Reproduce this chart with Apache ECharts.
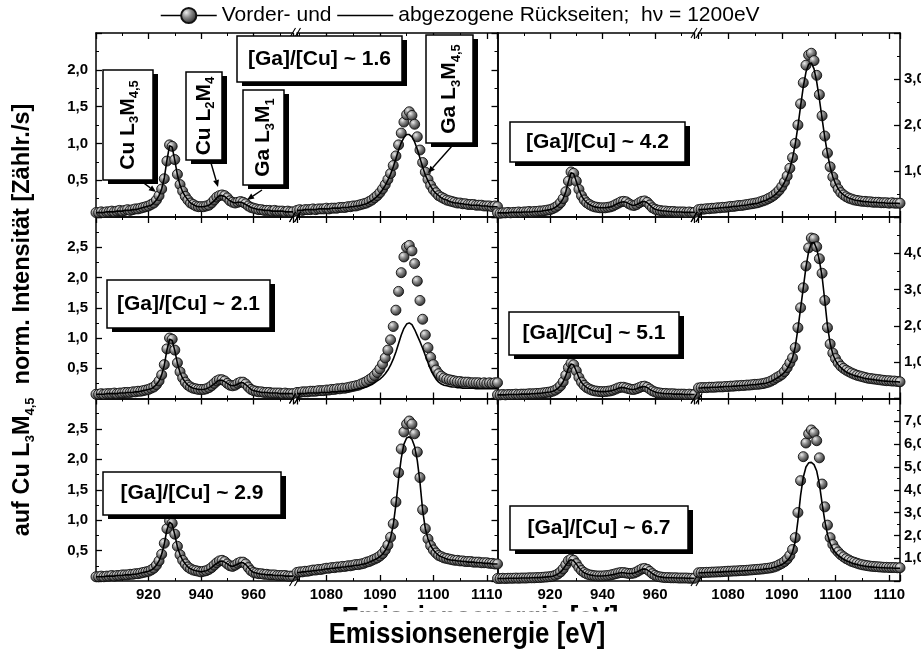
<!DOCTYPE html>
<html>
<head>
<meta charset="utf-8">
<script src="https://cdn.jsdelivr.net/npm/echarts@6/dist/echarts.min.js"></script>
<style>
  html, body { margin: 0; padding: 0; background: #fff; }
  #chart { width: 921px; height: 655px; }
</style>
</head>
<body>
<div id="chart"></div>
<script>
// Emission energies of the two measured windows (Cu L region and Ga L3M4,5 region), eV
const energyLow = [900,901,902,903,904,905,906,907,908,909,910,911,912,913,914,915,916,917,918,919,
  920,921,922,923,924,925,926,927,928,929,930,931,932,933,934,935,936,937,938,939,
  940,941,942,943,944,945,946,947,948,949,950,951,952,953,954,955,956,957,958,959,
  960,961,962,963,964,965,966,967,968,969,970,971,972,973,974,975];
const energyHigh = [1074.5,1075,1075.5,1076,1076.5,1077,1077.5,1078,1078.5,1079,
  1079.5,1080,1080.5,1081,1081.5,1082,1082.5,1083,1083.5,1084,
  1084.5,1085,1085.5,1086,1086.5,1087,1087.5,1088,1088.5,1089,
  1089.5,1090,1090.5,1091,1091.5,1092,1092.5,1093,1093.5,1094,
  1094.5,1095,1095.5,1096,1096.5,1097,1097.5,1098,1098.5,1099,
  1099.5,1100,1100.5,1101,1101.5,1102,1102.5,1103,1103.5,1104,
  1104.5,1105,1105.5,1106,1106.5,1107,1107.5,1108,1108.5,1109,
  1109.5,1110,1110.5,1111,1111.5,1112];

// Sample composition and intensity scale of each panel (row by row, left then right)
const sampleRatios = ['1.6', '4.2', '2.1', '5.1', '2.9', '6.7'];
const yMaxima = [2.5, 4, 3, 5, 3, 8];
const ySteps = [0.5, 1, 0.5, 1, 0.5, 1];

// [Ga]/[Cu] ~ 1.6
const frontLow16 = [0.06,0.06,0.07,0.06,0.07,0.07,0.08,0.07,0.08,0.09,
  0.08,0.09,0.10,0.09,0.10,0.11,0.11,0.12,0.13,0.14,
  0.15,0.17,0.19,0.23,0.29,0.38,0.52,0.76,0.98,0.96,
  0.78,0.58,0.44,0.35,0.28,0.23,0.19,0.17,0.15,0.14,
  0.14,0.14,0.15,0.16,0.19,0.23,0.27,0.29,0.30,0.29,
  0.26,0.22,0.20,0.19,0.20,0.21,0.20,0.18,0.15,0.13,
  0.12,0.11,0.10,0.10,0.09,0.09,0.09,0.08,0.09,0.08,
  0.08,0.08,0.07,0.08,0.07,0.07];
const backLow16 = [0.06,0.06,0.06,0.06,0.07,0.07,0.07,0.07,0.08,0.08,
  0.08,0.09,0.09,0.09,0.10,0.10,0.11,0.12,0.13,0.14,
  0.15,0.16,0.19,0.23,0.29,0.38,0.53,0.77,0.97,0.95,
  0.77,0.57,0.43,0.34,0.28,0.23,0.19,0.17,0.15,0.14,
  0.14,0.14,0.15,0.16,0.19,0.22,0.26,0.29,0.29,0.28,
  0.25,0.22,0.20,0.19,0.20,0.20,0.19,0.17,0.15,0.13,
  0.12,0.11,0.10,0.10,0.09,0.09,0.09,0.08,0.08,0.08,
  0.08,0.08,0.07,0.07,0.07,0.07];
const frontHigh16 = [0.09,0.10,0.09,0.10,0.10,0.10,0.11,0.10,0.11,0.11,
  0.11,0.12,0.11,0.12,0.12,0.12,0.13,0.13,0.13,0.14,
  0.14,0.15,0.15,0.16,0.17,0.18,0.19,0.21,0.23,0.26,
  0.29,0.33,0.38,0.44,0.51,0.59,0.70,0.83,0.98,1.14,
  1.29,1.39,1.43,1.38,1.26,1.09,0.91,0.74,0.61,0.51,
  0.43,0.37,0.33,0.29,0.27,0.25,0.23,0.22,0.21,0.20,
  0.19,0.19,0.18,0.18,0.17,0.17,0.17,0.16,0.16,0.16,
  0.15,0.15,0.15,0.14,0.15,0.14];
const backHigh16 = [0.09,0.09,0.09,0.10,0.10,0.10,0.10,0.10,0.11,0.11,
  0.11,0.11,0.11,0.12,0.12,0.12,0.12,0.13,0.13,0.13,
  0.14,0.14,0.15,0.15,0.16,0.17,0.18,0.20,0.22,0.25,
  0.28,0.32,0.37,0.43,0.50,0.58,0.68,0.79,0.91,1.01,
  1.08,1.12,1.12,1.09,1.02,0.92,0.80,0.68,0.57,0.49,
  0.42,0.36,0.32,0.29,0.26,0.24,0.23,0.21,0.20,0.19,
  0.19,0.18,0.18,0.17,0.17,0.16,0.16,0.16,0.16,0.15,
  0.15,0.15,0.14,0.14,0.14,0.14];

// [Ga]/[Cu] ~ 4.2
const frontLow42 = [0.09,0.08,0.09,0.09,0.10,0.09,0.10,0.10,0.11,0.10,
  0.11,0.11,0.12,0.11,0.12,0.12,0.13,0.13,0.14,0.15,
  0.16,0.18,0.21,0.25,0.31,0.40,0.55,0.78,0.98,0.95,
  0.78,0.60,0.46,0.37,0.31,0.27,0.24,0.22,0.21,0.20,
  0.20,0.20,0.21,0.22,0.24,0.27,0.30,0.33,0.34,0.33,
  0.29,0.26,0.25,0.27,0.31,0.34,0.35,0.32,0.26,0.20,
  0.17,0.15,0.14,0.13,0.13,0.12,0.12,0.12,0.11,0.11,
  0.11,0.11,0.10,0.11,0.10,0.10];
const backLow42 = [0.09,0.09,0.09,0.09,0.09,0.10,0.10,0.10,0.10,0.10,
  0.11,0.11,0.11,0.11,0.12,0.12,0.12,0.13,0.14,0.15,
  0.16,0.18,0.21,0.25,0.31,0.40,0.55,0.77,0.96,0.94,
  0.77,0.59,0.46,0.37,0.31,0.27,0.24,0.22,0.21,0.20,
  0.20,0.20,0.21,0.22,0.24,0.27,0.30,0.32,0.33,0.32,
  0.29,0.26,0.25,0.27,0.30,0.33,0.34,0.31,0.26,0.20,
  0.17,0.15,0.14,0.13,0.13,0.12,0.12,0.11,0.11,0.11,
  0.11,0.10,0.10,0.10,0.10,0.10];
const frontHigh42 = [0.16,0.17,0.17,0.18,0.18,0.19,0.19,0.20,0.20,0.21,
  0.21,0.22,0.23,0.23,0.24,0.25,0.25,0.26,0.27,0.28,
  0.29,0.30,0.31,0.33,0.35,0.37,0.40,0.43,0.47,0.52,
  0.58,0.66,0.76,0.89,1.06,1.29,1.60,2.00,2.46,2.92,
  3.30,3.52,3.56,3.40,3.08,2.66,2.20,1.76,1.39,1.09,
  0.87,0.72,0.61,0.53,0.48,0.44,0.41,0.39,0.37,0.36,
  0.35,0.34,0.34,0.33,0.33,0.32,0.32,0.32,0.31,0.31,
  0.31,0.30,0.31,0.30,0.30,0.30];
const backHigh42 = [0.16,0.16,0.17,0.17,0.18,0.18,0.19,0.19,0.20,0.20,
  0.21,0.21,0.22,0.23,0.23,0.24,0.25,0.25,0.26,0.27,
  0.28,0.29,0.30,0.32,0.34,0.36,0.39,0.42,0.46,0.51,
  0.57,0.65,0.75,0.88,1.05,1.28,1.58,1.97,2.41,2.83,
  3.15,3.32,3.35,3.22,2.94,2.56,2.14,1.73,1.38,1.09,
  0.87,0.72,0.61,0.53,0.48,0.44,0.41,0.39,0.37,0.36,
  0.35,0.34,0.33,0.33,0.32,0.32,0.32,0.31,0.31,0.31,
  0.30,0.30,0.30,0.30,0.30,0.29];

// [Ga]/[Cu] ~ 2.1
const frontLow21 = [0.07,0.07,0.08,0.07,0.08,0.08,0.08,0.09,0.08,0.09,
  0.09,0.10,0.10,0.10,0.11,0.11,0.12,0.12,0.13,0.14,
  0.15,0.17,0.19,0.23,0.29,0.39,0.56,0.82,1.00,0.98,
  0.80,0.59,0.44,0.34,0.27,0.22,0.19,0.17,0.16,0.15,
  0.15,0.15,0.16,0.18,0.21,0.25,0.29,0.31,0.31,0.29,
  0.25,0.22,0.21,0.22,0.25,0.27,0.27,0.24,0.19,0.15,
  0.13,0.12,0.11,0.11,0.10,0.10,0.10,0.09,0.09,0.09,
  0.09,0.08,0.09,0.08,0.08,0.08];
const backLow21 = [0.07,0.07,0.07,0.07,0.08,0.08,0.08,0.08,0.08,0.09,
  0.09,0.09,0.10,0.10,0.10,0.11,0.11,0.12,0.13,0.14,
  0.15,0.16,0.19,0.23,0.29,0.39,0.55,0.80,0.98,0.96,
  0.79,0.58,0.43,0.33,0.27,0.22,0.19,0.17,0.16,0.15,
  0.15,0.15,0.16,0.18,0.21,0.24,0.28,0.30,0.30,0.28,
  0.25,0.22,0.21,0.22,0.24,0.26,0.26,0.23,0.19,0.15,
  0.13,0.12,0.11,0.10,0.10,0.10,0.09,0.09,0.09,0.09,
  0.08,0.08,0.08,0.08,0.08,0.08];
const frontHigh21 = [0.10,0.10,0.11,0.11,0.11,0.12,0.12,0.12,0.13,0.13,
  0.13,0.14,0.14,0.15,0.15,0.16,0.16,0.17,0.17,0.18,
  0.19,0.20,0.21,0.22,0.24,0.26,0.28,0.31,0.34,0.38,
  0.43,0.49,0.57,0.67,0.80,0.97,1.19,1.46,1.77,2.08,
  2.34,2.50,2.53,2.44,2.23,1.94,1.62,1.31,1.05,0.84,
  0.68,0.56,0.47,0.41,0.37,0.34,0.32,0.31,0.30,0.29,
  0.28,0.28,0.27,0.27,0.27,0.26,0.26,0.26,0.26,0.25,
  0.26,0.25,0.26,0.25,0.26,0.26];
const backHigh21 = [0.08,0.08,0.08,0.08,0.09,0.09,0.09,0.09,0.09,0.10,
  0.10,0.10,0.10,0.11,0.11,0.11,0.12,0.12,0.12,0.13,
  0.13,0.14,0.15,0.16,0.17,0.18,0.19,0.21,0.23,0.26,
  0.29,0.32,0.36,0.41,0.47,0.55,0.65,0.77,0.91,1.05,
  1.16,1.23,1.25,1.22,1.14,1.04,0.94,0.83,0.71,0.59,
  0.48,0.39,0.32,0.27,0.24,0.22,0.21,0.20,0.19,0.19,
  0.18,0.18,0.17,0.17,0.17,0.17,0.17,0.16,0.16,0.16,
  0.16,0.16,0.16,0.16,0.16,0.16];

// [Ga]/[Cu] ~ 5.1
const frontLow51 = [0.10,0.10,0.11,0.10,0.11,0.11,0.11,0.12,0.11,0.12,
  0.12,0.12,0.13,0.13,0.13,0.14,0.14,0.15,0.16,0.17,
  0.18,0.20,0.23,0.28,0.35,0.46,0.64,0.85,0.97,0.93,
  0.76,0.58,0.45,0.36,0.30,0.26,0.23,0.21,0.20,0.19,
  0.19,0.19,0.20,0.21,0.23,0.26,0.29,0.31,0.31,0.29,
  0.27,0.25,0.25,0.27,0.30,0.33,0.34,0.31,0.26,0.21,
  0.18,0.16,0.15,0.14,0.14,0.13,0.13,0.13,0.12,0.12,
  0.12,0.12,0.11,0.12,0.11,0.11];
const backLow51 = [0.10,0.10,0.10,0.10,0.11,0.11,0.11,0.11,0.11,0.12,
  0.12,0.12,0.12,0.13,0.13,0.14,0.14,0.15,0.16,0.17,
  0.18,0.20,0.23,0.28,0.35,0.46,0.63,0.84,0.95,0.92,
  0.75,0.57,0.44,0.36,0.30,0.26,0.23,0.21,0.20,0.19,
  0.19,0.19,0.20,0.21,0.23,0.25,0.28,0.30,0.30,0.28,
  0.26,0.25,0.25,0.27,0.30,0.32,0.33,0.30,0.25,0.21,
  0.18,0.16,0.15,0.14,0.13,0.13,0.13,0.12,0.12,0.12,
  0.12,0.11,0.11,0.11,0.11,0.11];
const frontHigh51 = [0.29,0.30,0.30,0.30,0.31,0.31,0.31,0.32,0.32,0.32,
  0.33,0.33,0.34,0.34,0.35,0.35,0.36,0.36,0.37,0.37,
  0.38,0.39,0.39,0.40,0.41,0.43,0.45,0.48,0.52,0.57,
  0.61,0.66,0.74,0.85,0.98,1.12,1.40,1.95,2.50,3.05,
  3.65,4.15,4.42,4.40,4.18,3.85,3.45,2.70,1.95,1.50,
  1.25,1.10,0.98,0.89,0.83,0.78,0.74,0.70,0.67,0.64,
  0.62,0.60,0.58,0.56,0.55,0.54,0.53,0.52,0.51,0.50,
  0.49,0.49,0.48,0.48,0.47,0.46];
const backHigh51 = [0.29,0.29,0.30,0.30,0.30,0.31,0.31,0.31,0.32,0.32,
  0.33,0.33,0.33,0.34,0.34,0.35,0.35,0.36,0.36,0.37,
  0.38,0.38,0.39,0.40,0.41,0.42,0.44,0.47,0.51,0.55,
  0.60,0.65,0.72,0.82,0.95,1.12,1.42,1.92,2.48,3.05,
  3.62,4.05,4.28,4.30,4.12,3.80,3.36,2.70,2.00,1.52,
  1.22,1.05,0.93,0.85,0.78,0.73,0.69,0.66,0.63,0.61,
  0.59,0.57,0.55,0.54,0.53,0.52,0.51,0.50,0.49,0.48,
  0.48,0.47,0.47,0.46,0.46,0.45];

// [Ga]/[Cu] ~ 2.9
const frontLow29 = [0.07,0.07,0.08,0.07,0.08,0.08,0.09,0.08,0.09,0.09,
  0.10,0.10,0.10,0.11,0.11,0.12,0.12,0.13,0.14,0.15,
  0.16,0.18,0.21,0.26,0.33,0.44,0.62,0.86,0.99,0.95,
  0.77,0.57,0.43,0.34,0.28,0.23,0.20,0.18,0.17,0.16,
  0.15,0.16,0.17,0.19,0.22,0.26,0.30,0.33,0.34,0.32,
  0.28,0.25,0.24,0.26,0.29,0.31,0.31,0.28,0.22,0.17,
  0.14,0.13,0.12,0.12,0.11,0.11,0.10,0.10,0.10,0.09,
  0.09,0.09,0.09,0.08,0.08,0.08];
const backLow29 = [0.07,0.07,0.07,0.07,0.08,0.08,0.08,0.08,0.09,0.09,
  0.09,0.10,0.10,0.10,0.11,0.11,0.12,0.13,0.14,0.15,
  0.16,0.18,0.21,0.26,0.33,0.44,0.61,0.84,0.97,0.93,
  0.76,0.56,0.43,0.34,0.28,0.23,0.20,0.18,0.17,0.16,
  0.15,0.16,0.17,0.19,0.22,0.26,0.29,0.32,0.33,0.31,
  0.28,0.25,0.24,0.26,0.28,0.30,0.30,0.27,0.22,0.17,
  0.14,0.13,0.12,0.11,0.11,0.10,0.10,0.10,0.09,0.09,
  0.09,0.09,0.08,0.08,0.08,0.08];
const frontHigh29 = [0.14,0.15,0.15,0.16,0.16,0.17,0.18,0.18,0.19,0.19,
  0.20,0.21,0.21,0.22,0.22,0.23,0.23,0.24,0.24,0.25,
  0.25,0.26,0.27,0.27,0.28,0.29,0.31,0.32,0.34,0.36,
  0.38,0.41,0.45,0.51,0.59,0.72,0.94,1.30,1.78,2.17,
  2.45,2.58,2.63,2.58,2.42,2.12,1.70,1.17,0.86,0.69,
  0.58,0.51,0.46,0.42,0.40,0.38,0.37,0.36,0.35,0.34,
  0.34,0.33,0.33,0.32,0.32,0.32,0.31,0.31,0.31,0.30,
  0.30,0.30,0.29,0.29,0.28,0.28];
const backHigh29 = [0.14,0.14,0.15,0.15,0.16,0.16,0.17,0.17,0.18,0.18,
  0.19,0.20,0.20,0.21,0.21,0.22,0.22,0.23,0.23,0.24,
  0.24,0.25,0.26,0.26,0.27,0.28,0.29,0.31,0.33,0.35,
  0.37,0.40,0.44,0.50,0.58,0.71,0.92,1.26,1.68,2.02,
  2.25,2.35,2.37,2.33,2.21,1.98,1.62,1.16,0.86,0.69,
  0.58,0.51,0.46,0.42,0.40,0.38,0.36,0.35,0.34,0.34,
  0.33,0.33,0.32,0.32,0.31,0.31,0.31,0.30,0.30,0.30,
  0.29,0.29,0.29,0.28,0.28,0.28];

// [Ga]/[Cu] ~ 6.7
const frontLow67 = [0.11,0.11,0.12,0.11,0.12,0.12,0.12,0.13,0.12,0.13,
  0.13,0.13,0.14,0.14,0.14,0.15,0.15,0.16,0.17,0.18,
  0.19,0.21,0.25,0.31,0.40,0.53,0.71,0.89,0.96,0.91,
  0.76,0.59,0.46,0.37,0.31,0.27,0.25,0.23,0.22,0.22,
  0.22,0.23,0.24,0.26,0.29,0.32,0.35,0.37,0.37,0.35,
  0.33,0.33,0.35,0.40,0.47,0.53,0.55,0.51,0.42,0.32,
  0.25,0.20,0.18,0.16,0.15,0.15,0.14,0.14,0.14,0.13,
  0.13,0.13,0.13,0.12,0.12,0.12];
const backLow67 = [0.11,0.11,0.11,0.11,0.12,0.12,0.12,0.12,0.12,0.13,
  0.13,0.13,0.13,0.14,0.14,0.15,0.15,0.16,0.17,0.18,
  0.19,0.21,0.25,0.31,0.39,0.52,0.69,0.86,0.93,0.89,
  0.75,0.58,0.45,0.36,0.31,0.27,0.25,0.23,0.22,0.22,
  0.22,0.23,0.24,0.26,0.28,0.31,0.34,0.36,0.36,0.34,
  0.33,0.33,0.35,0.39,0.45,0.51,0.53,0.49,0.41,0.32,
  0.25,0.20,0.18,0.16,0.15,0.14,0.14,0.14,0.13,0.13,
  0.13,0.13,0.12,0.12,0.12,0.12];
const frontHigh67 = [0.36,0.37,0.37,0.38,0.38,0.39,0.39,0.40,0.40,0.41,
  0.42,0.43,0.43,0.44,0.44,0.45,0.46,0.46,0.47,0.48,
  0.49,0.50,0.51,0.52,0.53,0.55,0.56,0.58,0.61,0.65,
  0.71,0.77,0.85,0.96,1.12,1.38,1.90,3.00,4.40,5.45,
  6.05,6.45,6.62,6.50,6.15,5.40,4.25,3.25,2.45,1.90,
  1.60,1.40,1.27,1.15,1.06,0.98,0.92,0.86,0.82,0.78,
  0.74,0.71,0.69,0.67,0.65,0.64,0.63,0.62,0.61,0.60,
  0.60,0.59,0.59,0.59,0.58,0.58];
const backHigh67 = [0.35,0.36,0.36,0.37,0.37,0.38,0.38,0.39,0.39,0.40,
  0.41,0.41,0.42,0.42,0.43,0.44,0.44,0.45,0.46,0.46,
  0.47,0.48,0.49,0.50,0.51,0.53,0.54,0.56,0.59,0.62,
  0.67,0.72,0.79,0.89,1.03,1.27,1.72,2.65,3.75,4.55,
  5.00,5.18,5.20,5.10,4.82,4.25,3.40,2.65,2.05,1.65,
  1.40,1.24,1.12,1.03,0.95,0.89,0.84,0.79,0.75,0.72,
  0.69,0.67,0.65,0.63,0.62,0.61,0.60,0.59,0.58,0.58,
  0.57,0.57,0.57,0.56,0.56,0.56];

const frontSeries = [[frontLow16, frontHigh16], [frontLow42, frontHigh42], [frontLow21, frontHigh21],
                     [frontLow51, frontHigh51], [frontLow29, frontHigh29], [frontLow67, frontHigh67]];
const backSeries  = [[backLow16, backHigh16], [backLow42, backHigh42], [backLow21, backHigh21],
                     [backLow51, backHigh51], [backLow29, backHigh29], [backLow67, backHigh67]];

const NAME_FRONT = 'Vorder- und';
const NAME_BACK = 'abgezogene Rückseiten;  hν = 1200eV';

// ---------- layout ----------
const SANS = '"Liberation Sans",Arial,Helvetica,sans-serif';
const colX = [96, 497.5];
const colW = [401.5, 402.5];
const segLowW = 197;      // width of the 900-975 eV window
const segHighOff = 201;   // start of the 1074.5-1112 eV window inside a panel
const rowY = [33, 217, 398.5];
const rowH = [184, 181.5, 182.5];

const ball = new echarts.graphic.RadialGradient(0.36, 0.33, 0.72, [
  { offset: 0, color: '#ececec' },
  { offset: 0.4, color: '#8c8c8c' },
  { offset: 1, color: '#1c1c1c' }
]);

const commaFmt = v => v.toFixed(1).replace('.', ',');
const plainFmt = v => String(v);
const pairs = (xs, ys) => xs.map((x, i) => [x, ys[i]]);

const axisLineStyle = { color: '#000', width: 1.5 };
const tickStyle = { color: '#000', width: 1.3 };
const tickFont = { color: '#000', fontFamily: SANS, fontWeight: 'bold', fontSize: 15 };

function xAxisDef(gridIndex, position, min, max, interval, labels) {
  const a = {
    type: 'value', gridIndex, position, min, max, splitNumber: 4,
    axisLine: { show: true, onZero: false, lineStyle: axisLineStyle },
    axisTick: { show: true, inside: true, length: 6, lineStyle: tickStyle },
    minorTick: { show: true, splitNumber: 2, length: 3, lineStyle: { color: '#000', width: 1 } },
    splitLine: { show: false },
    axisLabel: Object.assign({
      show: labels, formatter: plainFmt, showMinLabel: false, showMaxLabel: false, margin: 6
    }, tickFont)
  };
  if (interval) a.interval = interval;
  return a;
}

function yAxisDef(gridIndex, position, max, step, ticks, labels) {
  return {
    type: 'value', gridIndex, position, min: 0, max, interval: step,
    axisLine: { show: true, onZero: false, lineStyle: axisLineStyle },
    axisTick: { show: ticks, inside: true, length: 6, lineStyle: tickStyle },
    minorTick: { show: ticks, splitNumber: 2, length: 3, lineStyle: { color: '#000', width: 1 } },
    splitLine: { show: false },
    axisLabel: Object.assign({
      show: labels, formatter: commaFmt, showMinLabel: false, showMaxLabel: false,
      margin: position === 'left' ? 8 : 4
    }, tickFont)
  };
}

const grid = [], xAxis = [], yAxis = [], series = [];

sampleRatios.forEach((ratio, k) => {
  const r = Math.floor(k / 2), c = k % 2;
  const bottom = r === 2;
  grid.push({ left: colX[c], top: rowY[r], width: segLowW, height: rowH[r], containLabel: false, outerBoundsMode: 'none' });
  grid.push({ left: colX[c] + segHighOff, top: rowY[r], width: colW[c] - segHighOff, height: rowH[r], containLabel: false, outerBoundsMode: 'none' });
  const gLow = 2 * k, gHigh = 2 * k + 1;

  xAxis.push(xAxisDef(gLow, 'bottom', 900, 975, 20, bottom));
  xAxis.push(xAxisDef(gLow, 'top', 900, 975, 20, false));
  xAxis.push(xAxisDef(gHigh, 'bottom', 1074.5, 1112, null, bottom));
  xAxis.push(xAxisDef(gHigh, 'top', 1074.5, 1112, null, false));

  yAxis.push(yAxisDef(gLow, 'left', yMaxima[k], ySteps[k], c === 0, c === 0));
  yAxis.push(yAxisDef(gHigh, 'right', yMaxima[k], ySteps[k], true, c === 1));

  const windows = [[energyLow, 4 * k, 2 * k], [energyHigh, 4 * k + 2, 2 * k + 1]];
  windows.forEach(([xs, xi, yi], w) => {
    series.push({
      type: 'line', name: NAME_FRONT, xAxisIndex: xi, yAxisIndex: yi,
      data: pairs(xs, frontSeries[k][w]),
      symbol: 'circle', symbolSize: 10, showAllSymbol: true,
      lineStyle: { opacity: 0 },
      itemStyle: { color: ball, borderColor: '#111', borderWidth: 0.9 },
      clip: false, z: 2, silent: true, emphasis: { disabled: true }
    });
    series.push({
      type: 'line', name: NAME_BACK, xAxisIndex: xi, yAxisIndex: yi,
      data: pairs(xs, backSeries[k][w]),
      symbol: 'none',
      lineStyle: { color: '#000', width: 1.6 },
      itemStyle: { color: 'rgba(0,0,0,0)' },
      clip: false, z: 3, silent: true, emphasis: { disabled: true }
    });
  });
});

// ---------- annotations ----------
const subRich = {
  s: { font: 'bold 13px ' + SANS, verticalAlign: 'bottom', lineHeight: 10, fill: '#000' }
};

function labelBox(x, y, w, h, text, vertical) {
  return {
    type: 'group', z: 50,
    children: [
      { type: 'rect', shape: { x: x + 5, y: y + 4, width: w, height: h }, style: { fill: '#000' }, z: 50 },
      { type: 'rect', shape: { x, y, width: w, height: h }, style: { fill: '#fff', stroke: '#000', lineWidth: 1.5 }, z: 51 },
      {
        type: 'text', x: x + w / 2, y: y + h / 2, rotation: vertical ? Math.PI / 2 : 0, z: 52,
        style: {
          text, font: 'bold 21px ' + SANS, fill: '#000',
          align: 'center', verticalAlign: 'middle', textAlign: 'center', textVerticalAlign: 'middle',
          lineHeight: 26, rich: subRich
        }
      }
    ]
  };
}

function arrow(x1, y1, x2, y2) {
  const a = Math.atan2(y2 - y1, x2 - x1), L = 7, W = 3;
  const bx = x2 - L * Math.cos(a), by = y2 - L * Math.sin(a);
  return [
    { type: 'line', z: 50, shape: { x1, y1, x2: bx, y2: by }, style: { stroke: '#000', lineWidth: 1.4 } },
    { type: 'polygon', z: 50, shape: { points: [[x2, y2], [bx - W * Math.sin(a), by + W * Math.cos(a)], [bx + W * Math.sin(a), by - W * Math.cos(a)]] }, style: { fill: '#000' } }
  ];
}

// position of each composition label box
const ratioBoxes = [
  [237, 36, 165, 46], [510, 122, 175, 40], [107, 280, 163, 48],
  [509, 312, 170, 43], [103, 472, 178, 43], [510, 506, 178, 44]
];

const graphics = [];
// line assignments in the first panel
graphics.push(labelBox(103, 70, 50, 110, 'Cu L{s|3}M{s|4,5}', true));
graphics.push(labelBox(186, 72, 36, 88, 'Cu L{s|2}M{s|4}', true));
graphics.push(labelBox(243, 90, 41, 95, 'Ga L{s|3}M{s|1}', true));
graphics.push(labelBox(426, 35, 47, 108, 'Ga L{s|3}M{s|4,5}', true));
graphics.push(...arrow(141, 181, 156, 192));
graphics.push(...arrow(211, 163, 218, 187));
graphics.push(...arrow(262, 190, 247, 200));
graphics.push(...arrow(452, 146, 428, 173));

sampleRatios.forEach((ratio, k) => {
  const [x, y, w, h] = ratioBoxes[k];
  graphics.push(labelBox(x, y, w, h, '[Ga]/[Cu] ~ ' + ratio, false));
});

// axis-break marks
for (let r = 0; r < 3; r++) {
  for (let c = 0; c < 2; c++) {
    const cx = colX[c] + (segLowW + segHighOff) / 2;
    [rowY[r], rowY[r] + rowH[r]].forEach(yy => {
      [-2.5, 2.5].forEach(d => {
        graphics.push({ type: 'line', z: 20, shape: { x1: cx + d - 3, y1: yy + 5, x2: cx + d + 3, y2: yy - 5 }, style: { stroke: '#000', lineWidth: 1.1 } });
      });
    });
  }
}

// axis titles
graphics.push({
  type: 'text', x: 23, y: 320, rotation: Math.PI / 2, z: 50,
  style: {
    text: 'auf Cu L{s|3}M{s|4,5}  norm. Intensität [Zählr./s]',
    font: 'bold 23.5px ' + SANS, fill: '#000',
    align: 'center', verticalAlign: 'middle', textAlign: 'center', textVerticalAlign: 'middle',
    lineHeight: 28, rich: subRich
  }
});
const xTitleStyle = {
  text: 'Emissionsenergie [eV]', font: 'bold 30px ' + SANS, fill: '#000',
  align: 'center', verticalAlign: 'middle', textAlign: 'center', textVerticalAlign: 'middle'
};
graphics.push({ type: 'text', x: 480, y: 619, scaleX: 0.86, z: 40, style: xTitleStyle });
graphics.push({ type: 'rect', z: 41, shape: { x: 300, y: 611.5, width: 360, height: 44 }, style: { fill: '#fff' } });
graphics.push({ type: 'text', x: 467, y: 635, scaleX: 0.86, z: 42, style: xTitleStyle });

const chart = echarts.init(document.getElementById('chart'), null, { renderer: 'canvas' });
chart.setOption({
  animation: false,
  backgroundColor: '#fff',
  legend: {
    left: 160, top: 5, itemWidth: 56, itemHeight: 19, itemGap: 5, padding: 0,
    selectedMode: false,
    textStyle: { fontFamily: SANS, fontSize: 21, color: '#000' },
    data: [
      { name: NAME_FRONT, lineStyle: { color: '#000', width: 1.5, opacity: 1 } },
      { name: NAME_BACK, lineStyle: { color: '#000', width: 1.5, opacity: 1 }, itemStyle: { color: 'rgba(0,0,0,0)', borderWidth: 0, opacity: 0 } }
    ]
  },
  tooltip: { show: false },
  grid, xAxis, yAxis, series,
  graphic: { elements: graphics }
});
</script>
</body>
</html>
